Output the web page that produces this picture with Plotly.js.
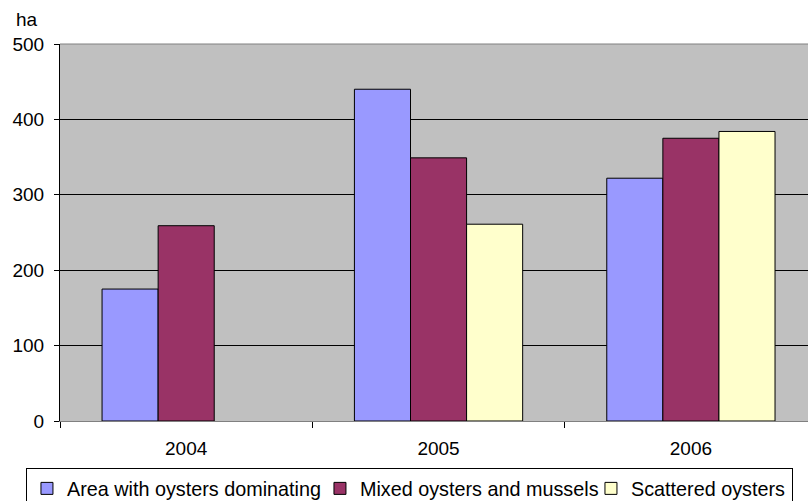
<!DOCTYPE html>
<html>
<head>
<meta charset="utf-8">
<script src="https://cdn.plot.ly/plotly-3.0.1.min.js"></script>
<style>html,body{margin:0;padding:0;background:#fff;}#chart{width:808px;height:501px;}</style>
</head>
<body>
<div id="chart"></div>
<script>
var years = ["2004", "2005", "2006"];
var seriesNames = ["Area with oysters dominating", "Mixed oysters and mussels", "Scattered oysters"];
var oystersDominating = [175, 440, 322];
var mixedOystersMussels = [259, 349, 375];
var scatteredOysters = [null, 261, 384];
var yTicks = [0, 100, 200, 300, 400, 500];
var unitLabel = "ha";

var colors = ["#9999ff", "#993366", "#ffffcc"];
var legendWidths = [248, 226, 156];
var values = [oystersDominating, mixedOystersMussels, scatteredOysters];

var traces = values.map(function (v, i) {
  return {
    type: "bar",
    name: seriesNames[i],
    x: years,
    y: v,
    legendwidth: legendWidths[i],
    marker: { color: colors[i], line: { color: "#000000", width: 1 } },
    hoverinfo: "x+y+name"
  };
});

var font = { family: "Liberation Sans, Arial, sans-serif", size: 19, color: "#000000" };
var legendFont = { family: "Liberation Sans, Arial, sans-serif", size: 19.8, color: "#000000" };

var layout = {
  width: 808,
  height: 501,
  margin: { l: 60, r: 0, t: 44, b: 80, pad: 0, autoexpand: false },
  paper_bgcolor: "#ffffff",
  plot_bgcolor: "#c0c0c0",
  font: font,
  barmode: "group",
  bargap: 0.3333,
  bargroupgap: 0,
  showlegend: true,
  legend: {
    orientation: "h",
    x: -0.0455,
    xanchor: "left",
    y: -0.1247,
    yanchor: "top",
    bordercolor: "#000000",
    borderwidth: 1,
    bgcolor: "#ffffff",
    font: legendFont,
    tracegroupgap: 0,
    itemwidth: 30
  },
  xaxis: {
    type: "category",
    range: [-0.5, 2.464],
    showgrid: false,
    zeroline: false,
    showline: true,
    linecolor: "#808080",
    linewidth: 1,
    ticks: "outside",
    tickson: "boundaries",
    ticklen: 6,
    tickcolor: "#000000",
    ticklabelstandoff: 10,
    tickfont: font,
    fixedrange: true
  },
  yaxis: {
    range: [0, 500],
    tickvals: yTicks,
    showgrid: true,
    gridcolor: "#000000",
    gridwidth: 1,
    zeroline: false,
    showline: true,
    linecolor: "#000000",
    linewidth: 1,
    ticks: "outside",
    ticklen: 5,
    tickcolor: "#000000",
    ticklabelstandoff: 6,
    tickfont: font,
    fixedrange: true
  },
  shapes: [{
    type: "line", xref: "paper", yref: "paper",
    x0: 0, x1: 1, y0: 1, y1: 1,
    line: { color: "#808080", width: 1 }
  }],
  annotations: [{
    text: unitLabel,
    xref: "paper", yref: "paper",
    x: -0.062, xanchor: "left",
    y: 1.066, yanchor: "middle",
    showarrow: false,
    font: font
  }]
};

Plotly.newPlot("chart", traces, layout, { displayModeBar: false, staticPlot: true });
</script>
</body>
</html>
